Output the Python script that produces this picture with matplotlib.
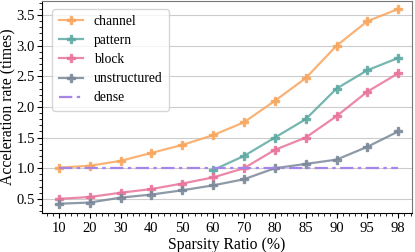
import matplotlib
matplotlib.use("Agg")
import matplotlib.pyplot as plt
import numpy as np
from matplotlib.ticker import AutoMinorLocator

plt.rcParams['font.family'] = ['Liberation Serif', 'DejaVu Serif']
plt.rcParams['mathtext.fontset'] = 'stix'

ratios = ["10", "20", "30", "40", "50", "60", "70", "80", "85", "90", "95", "98"]
channel = [1.01, 1.04, 1.12, 1.25, 1.38, 1.54, 1.75, 2.10, 2.47, 3.00, 3.40, 3.60]
pattern = [np.nan, np.nan, np.nan, np.nan, np.nan, 0.97, 1.20, 1.50, 1.80, 2.30, 2.60, 2.80]
block = [0.50, 0.53, 0.60, 0.66, 0.75, 0.85, 1.00, 1.30, 1.50, 1.85, 2.25, 2.55]
unstructured = [0.42, 0.44, 0.52, 0.57, 0.64, 0.72, 0.82, 1.00, 1.07, 1.14, 1.35, 1.60]
dense = [1.0] * len(ratios)

x = np.arange(len(ratios))

fig, ax = plt.subplots(figsize=(4.15, 2.52), dpi=100)
ax.grid(axis='y', color='#cccccc', linewidth=0.8)
ax.set_axisbelow(True)

kw = dict(marker='P', markersize=6, linewidth=1.6, alpha=0.85)
ax.plot(x, channel, color='#f8a65e', label='channel', **kw)
ax.plot(x, pattern, color='#5ea9a2', label='pattern', **kw)
ax.plot(x, block, color='#e8739b', label='block', **kw)
ax.plot(x, unstructured, color='#7a8899', label='unstructured', **kw)
ax.plot(x, dense, color='#a585e8', linestyle='-.', linewidth=1.6, dashes=(6, 2, 1.5, 2), label='dense')

ax.set_xticks(x)
ax.set_xticklabels(ratios)
ax.set_xlim(-0.55, 11.45)
ax.set_ylim(0.27, 3.73)
ax.set_yticks([0.5, 1.0, 1.5, 2.0, 2.5, 3.0, 3.5])
ax.xaxis.set_minor_locator(AutoMinorLocator(5))
ax.yaxis.set_minor_locator(AutoMinorLocator(5))
ax.tick_params(axis='both', which='major', labelsize=10.5, length=3.5)
ax.tick_params(axis='x', which='major', pad=3)
ax.tick_params(axis='y', which='major', pad=1.5)
ax.tick_params(axis='both', which='minor', length=2)

for s in ['top', 'right']:
    ax.spines[s].set_color('#777777')

ax.set_xlabel('Sparsity Ratio (%)', fontsize=11.3, labelpad=1.5)
ax.set_ylabel('Acceleration rate (times)', fontsize=11.3, labelpad=1)
ax.legend(loc='upper left', fontsize=9.8, handlelength=1.8, handletextpad=0.8,
          labelspacing=0.45, borderpad=0.45, bbox_to_anchor=(0.01, 0.995))

fig.subplots_adjust(left=0.101, right=0.993, top=0.996, bottom=0.155)
fig.savefig('out.png', dpi=100)
